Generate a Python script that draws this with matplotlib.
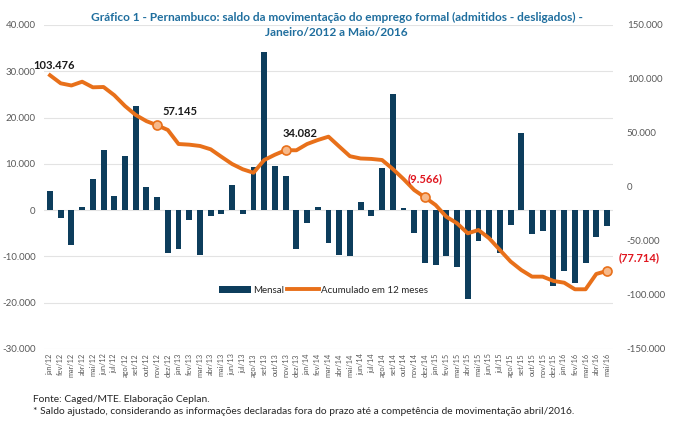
import matplotlib
matplotlib.use("Agg")
import matplotlib.pyplot as plt
from matplotlib.ticker import FuncFormatter, MultipleLocator
import numpy as np

plt.rcParams['font.family'] = ['Lato', 'DejaVu Sans']

# meses jan/12 a mai/16
meses = ["jan", "fev", "mar", "abr", "mai", "jun", "jul", "ago", "set", "out", "nov", "dez"]
labels = [f"{m}/{a}" for a in range(12, 17) for m in meses][:53]

# saldo mensal (admitidos - desligados)
mensal = [
    4100, -1600, -7600, 700, 6800, 12900, 3100, 11600, 22500, 5000, 2800, -9200,
    -8500, -2200, -9600, -1300, -900, 5400, -900, 9400, 34200, 9600, 7300, -8400,
    -2700, 700, -7100, -9700, -9900, 1800, -1300, 9000, 25200, 400, -4900, -11500,
    -11900, -9900, -12200, -19300, -6700, -6100, -9300, -3200, 16700, -5200, -4500, -16300,
    -13200, -15800, -11500, -5800, -3500,
]

# acumulado em 12 meses
acumulado = [
    103476, 96000, 94000, 97500, 92300, 92600, 85000, 75000, 66700, 61000, 57145, 52800,
    39800, 39200, 38000, 34900, 28000, 21300, 16400, 13200, 25000, 29900, 34082, 34000,
    39800, 43500, 46600, 37500, 28500, 26400, 26000, 25000, 16700, 7400, -2800, -9566,
    -16700, -27500, -33600, -42900, -39800, -47500, -58300, -69000, -76900, -83000, -83000, -87000,
    -88600, -94700, -94700, -80500, -77714,
]

# pontos com rótulo: indice, texto, cor, deslocamento (px)
destaques = [
    (10, "57.145", "#1a1a1a", (23, 14)),
    (22, "34.082", "#1a1a1a", (14, 17)),
    (35, "(9.566)", "#e0161f", (0, 19)),
    (52, "(77.714)", "#e0161f", (32, 13)),
]

cor_barra = "#0d3d5c"
cor_linha = "#e8701a"
cor_texto = "#595959"


def fmt_milhar(v, pos=None):
    return f"{v:,.0f}".replace(",", ".")


fig = plt.figure(figsize=(6.8, 4.24), dpi=100)
ax = fig.add_axes([44 / 680, 1 - 349 / 424, 569 / 680, 324 / 424])
ax2 = ax.twinx()

x = np.arange(len(labels))
ax.bar(x, mensal, width=0.55, color=cor_barra, label="Mensal", zorder=2)
ax.set_ylim(-30000, 40000)
ax.yaxis.set_major_locator(MultipleLocator(10000))
ax.yaxis.set_major_formatter(FuncFormatter(fmt_milhar))
ax.grid(axis="y", color="#e3e3e3", linewidth=0.8, zorder=0)
ax.set_axisbelow(True)
ax.set_xlim(-0.56, 52.56)
ax.set_xticks(x)
ax.set_xticklabels(labels, rotation=90, fontsize=5.3, color=cor_texto)
ax.tick_params(axis="x", length=0, pad=3)
ax.tick_params(axis="y", length=0, labelsize=7, labelcolor=cor_texto, pad=6)

ax2.plot(x, acumulado, color=cor_linha, linewidth=2.8, solid_joinstyle="round",
         label="Acumulado em 12 meses", zorder=3)
ax2.set_ylim(-150000, 150000)
ax2.yaxis.set_major_locator(MultipleLocator(50000))
ax2.yaxis.set_major_formatter(FuncFormatter(fmt_milhar))
ax2.tick_params(axis="y", length=0, labelsize=7, labelcolor=cor_texto, pad=10)

for a in (ax, ax2):
    for s in a.spines.values():
        s.set_visible(False)

# rótulo inicial (sem marcador)
ax2.annotate("103.476", (x[0], acumulado[0]), xytext=(4, 10), textcoords="offset pixels",
             ha="center", va="center", fontsize=8, fontweight="bold", color="#1a1a1a")

for i, txt, cor, off in destaques:
    ax2.plot(x[i], acumulado[i], marker="o", markersize=6.5, markerfacecolor="#f7b98a",
             markeredgecolor=cor_linha, markeredgewidth=1.2, zorder=4)
    ax2.annotate(txt, (x[i], acumulado[i]), xytext=off, textcoords="offset pixels",
                 ha="center", va="center", fontsize=8, fontweight="bold", color=cor,
                 arrowprops=dict(arrowstyle="-", color="#a6a6a6", lw=0.6, shrinkA=6, shrinkB=3))

h1, l1 = ax.get_legend_handles_labels()
h2, l2 = ax2.get_legend_handles_labels()
leg = ax2.legend(h1 + h2, l1 + l2, loc="center", bbox_to_anchor=(0.492, 0.182), ncol=2,
                 frameon=False, fontsize=7, handlelength=3.2, handletextpad=0.3,
                 columnspacing=0.3, borderaxespad=0)
for t in leg.get_texts():
    t.set_color("#262626")

fig.text(0.495, 1 - 25 / 424,
         "Gráfico 1 - Pernambuco: saldo da movimentação do emprego formal (admitidos - desligados) -\n"
         "Janeiro/2012 a Maio/2016",
         ha="center", va="center", fontsize=8.6, fontweight="bold", color="#1f6e9e",
         linespacing=1.35)

fig.text(33 / 680, 1 - 399 / 424, "Fonte: Caged/MTE. Elaboração Ceplan.",
         ha="left", va="center", fontsize=7.4, color="#262626")
fig.text(33 / 680, 1 - 411 / 424,
         "* Saldo ajustado, considerando as informações declaradas fora do prazo até a "
         "competência de movimentação abril/2016.",
         ha="left", va="center", fontsize=7.4, color="#262626")

fig.savefig("out.png", dpi=100)
